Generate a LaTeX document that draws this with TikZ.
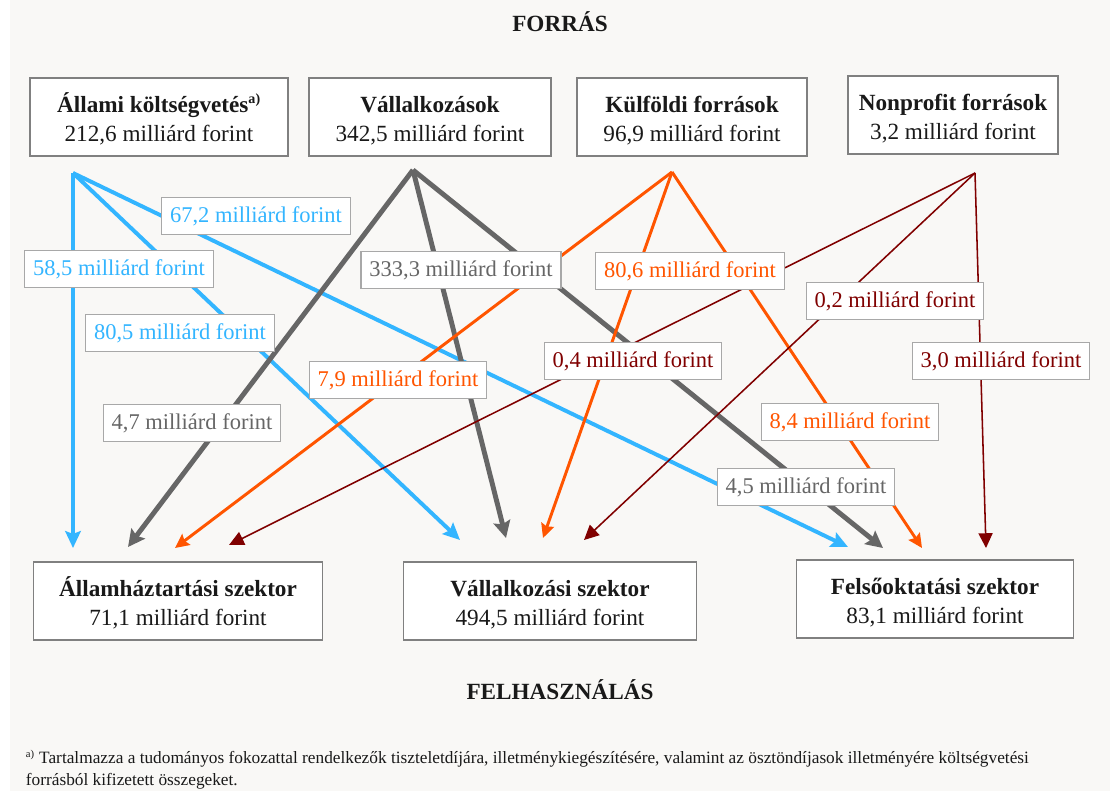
\documentclass[tikz,border=0pt]{standalone}
\usepackage{fontspec}
\setmainfont{Liberation Serif}
\usetikzlibrary{arrows.meta}

\definecolor{paper}{RGB}{249,248,246}
\definecolor{flowblue}{RGB}{51,181,255}
\definecolor{flowgray}{RGB}{102,102,102}
\definecolor{floworange}{RGB}{255,85,0}
\definecolor{flowred}{RGB}{128,0,0}
\definecolor{boxline}{RGB}{128,128,128}
\definecolor{lblline}{RGB}{168,168,168}
\definecolor{ink}{RGB}{25,25,25}
\newcommand{\boxstrut}{\rule{0pt}{17pt}}

\begin{document}
\begin{tikzpicture}[
  x=0.025cm, y=-0.025cm,
  sector/.style={draw=boxline,line width=1.1pt,fill=white,align=center,minimum height=1.95cm,
    font=\fontsize{16.5}{21}\selectfont,text=ink},
  amount/.style={draw=lblline,line width=0.9pt,fill=white,minimum height=0.92cm,inner xsep=6pt,
    font=\fontsize{16}{19}\selectfont},
  heading/.style={font=\fontsize{16.5}{20}\bfseries\selectfont,text=ink},
  bluearrow/.style={draw=flowblue,line width=2.8pt,-{Stealth[length=12pt,width=11pt,inset=2pt]}},
  grayarrow/.style={draw=flowgray,line width=3.5pt,-{Stealth[length=12pt,width=12pt,inset=2pt]}},
  orangearrow/.style={draw=floworange,line width=2.1pt,-{Stealth[length=10pt,width=9.5pt,inset=1.5pt]}},
  redarrow/.style={draw=flowred,line width=1.1pt,-{Triangle[length=10.5pt,width=10pt]}},
]
\useasboundingbox (0,0) rectangle (1110,791);
\fill[white] (0,0) rectangle (1110,791);
\fill[paper] (10,0) rectangle (1110,791);

\node[heading] (forras) at (560,22) {FORRÁS};
\node[heading] (felhasz) at (560,690) {FELHASZNÁLÁS};

\node[sector,minimum width=6.45cm] (allami) at (159,117) {\boxstrut\textbf{Állami költségvetés}\textsuperscript{\fontsize{10}{10}\selectfont\bfseries a)}\\212,6 milliárd forint};
\node[sector,minimum width=6.05cm] (vallalk) at (430,117) {\boxstrut\textbf{Vállalkozások}\\342,5 milliárd forint};
\node[sector,minimum width=5.75cm] (kulfold) at (692,117) {\boxstrut\textbf{Külföldi források}\\96,9 milliárd forint};
\node[sector,minimum width=5.25cm] (nonprof) at (953,115) {\boxstrut\textbf{Nonprofit források}\\3,2 milliárd forint};

\node[sector,minimum width=7.225cm] (allamh) at (178,601) {\boxstrut\textbf{Államháztartási szektor}\\71,1 milliárd forint};
\node[sector,minimum width=7.325cm] (vszek) at (550,601) {\boxstrut\textbf{Vállalkozási szektor}\\494,5 milliárd forint};
\node[sector,minimum width=6.925cm] (felso) at (935,599) {\boxstrut\textbf{Felsőoktatási szektor}\\83,1 milliárd forint};

\coordinate (allami-src) at (73,173);
\coordinate (vallalk-src) at (413,170);
\coordinate (kulfold-src) at (672,172);
\coordinate (nonprof-src) at (975,173);

\coordinate (allamh-b) at (73,548);
\coordinate (allamh-g) at (128,547);
\coordinate (allamh-o) at (175,548);
\coordinate (allamh-r) at (229,545);
\coordinate (vszek-b) at (460,540);
\coordinate (vszek-g) at (506,538);
\coordinate (vszek-o) at (543,538);
\coordinate (vszek-r) at (584,540);
\coordinate (felso-b) at (848,547);
\coordinate (felso-g) at (883,548);
\coordinate (felso-o) at (922,548);
\coordinate (felso-r) at (986,548);

\path (allami-src) edge[bluearrow] (allamh-b)
(allami-src) edge[bluearrow] (vszek-b)
(allami-src) edge[bluearrow] (felso-b)
(vallalk-src) edge[grayarrow] (allamh-g)
(vallalk-src) edge[grayarrow] (vszek-g)
(vallalk-src) edge[grayarrow] (felso-g)
(kulfold-src) edge[orangearrow] (allamh-o)
(kulfold-src) edge[orangearrow] (vszek-o)
(kulfold-src) edge[orangearrow] (felso-o)
(nonprof-src) edge[redarrow] (allamh-r)
(nonprof-src) edge[redarrow] (vszek-r)
(nonprof-src) edge[redarrow] (felso-r)
;

\node[amount,text=flowblue] (amt672) at (256,216) {67,2 milliárd forint};
\node[amount,text=flowblue] (amt585) at (119,269) {58,5 milliárd forint};
\node[amount,text=flowblue] (amt805) at (180,333) {80,5 milliárd forint};
\node[amount,text=flowgray] (amt3333) at (461,270) {333,3 milliárd forint};
\node[amount,text=flowgray] (amt47) at (192,423) {4,7 milliárd forint};
\node[amount,text=flowgray] (amt45) at (806,487) {4,5 milliárd forint};
\node[amount,text=floworange] (amt79) at (398,380) {7,9 milliárd forint};
\node[amount,text=floworange] (amt806) at (690,271) {80,6 milliárd forint};
\node[amount,text=floworange] (amt84) at (850,422) {8,4 milliárd forint};
\node[amount,text=flowred] (amt02) at (895,301) {0,2 milliárd forint};
\node[amount,text=flowred] (amt04) at (633,361) {0,4 milliárd forint};
\node[amount,text=flowred] (amt30) at (1001,361) {3,0 milliárd forint};

\node[anchor=north west,align=left,text=ink,font=\fontsize{12.3}{15.5}\selectfont] (labj) at (21,745)
  {\textsuperscript{\fontsize{7.5}{7.5}\selectfont a)} Tartalmazza a tudományos fokozattal rendelkezők tiszteletdíjára, illetménykiegészítésére, valamint az ösztöndíjasok illetményére költségvetési\\forrásból kifizetett összegeket.};
\end{tikzpicture}
\end{document}
